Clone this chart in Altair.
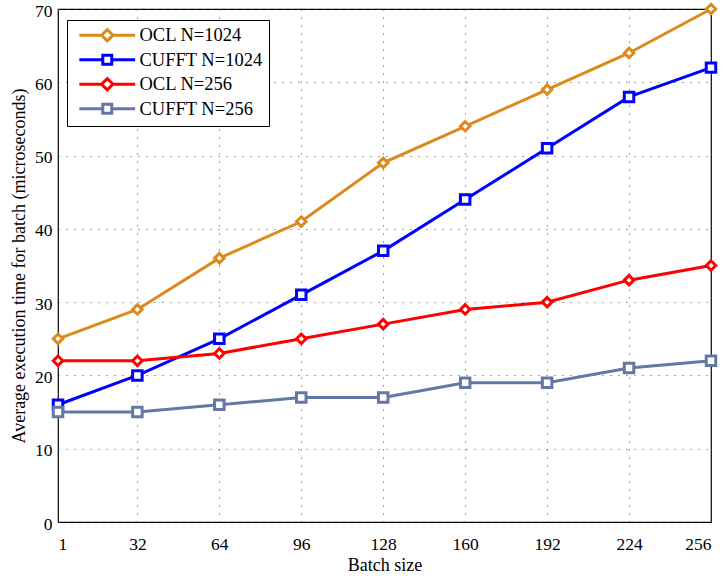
import altair as alt
import pandas as pd

batch = [1, 32, 64, 96, 128, 160, 192, 224, 256]
series_names = ["OCL N=1024", "CUFFT N=1024", "OCL N=256", "CUFFT N=256"]
ocl_1024 = [25, 29, 36, 41, 49, 54, 59, 64, 70]
cufft_1024 = [16, 20, 25, 31, 37, 44, 51, 58, 62]
ocl_256 = [22, 22, 23, 25, 27, 29, 30, 33, 35]
cufft_256 = [15, 15, 16, 17, 17, 19, 19, 21, 22]
colors = ["#DB8A1C", "#0000FF", "#FF0000", "#6478A6"]
y_ticks = [0, 10, 20, 30, 40, 50, 60, 70]

rows = []
for name, vals in zip(series_names, [ocl_1024, cufft_1024, ocl_256, cufft_256]):
    for b, v in zip(batch, vals):
        rows.append({"series": name, "batch": b, "time": v})
df = pd.DataFrame(rows)

FONT = "Liberation Serif"

x = alt.X("batch:Q", scale=alt.Scale(domain=[1, 256], nice=False, zero=False),
          axis=alt.Axis(values=batch, title="Batch size", labelFontSize=17.5,
                        titleFontSize=18, labelPadding=13, titlePadding=4,
                        labelFont=FONT, titleFont=FONT, titleFontWeight="normal",
                        labelColor="black", titleColor="black",
                        grid=True, gridColor="#444", gridDash=[1, 7], gridWidth=1,
                        ticks=False, domain=False))
y = alt.Y("time:Q", scale=alt.Scale(domain=[0, 70], nice=False),
          axis=alt.Axis(values=y_ticks, title="Average execution time for batch (microseconds)",
                        labelFontSize=17.5, titleFontSize=18, labelPadding=6, titlePadding=6,
                        labelOffset=2,
                        labelFont=FONT, titleFont=FONT, titleFontWeight="normal",
                        labelColor="black", titleColor="black",
                        grid=True, gridColor="#444", gridDash=[1, 7], gridWidth=1,
                        ticks=False, domain=False))
color_scale = alt.Scale(domain=series_names, range=colors)

base = alt.Chart(df)

lines = base.mark_line(strokeWidth=3).encode(
    x=x, y=y,
    color=alt.Color("series:N", scale=color_scale, legend=None),
    detail="series:N",
)

points = base.mark_point(filled=False, fill="white", fillOpacity=1, strokeWidth=3, size=90, opacity=1).encode(
    x=x, y=y,
    color=alt.Color("series:N", scale=color_scale, legend=None),
    shape=alt.Shape("series:N", scale=alt.Scale(domain=series_names,
                                                range=["diamond", "square", "diamond", "square"]),
                    legend=None),
)

D = "M-6.2,0H-1.25M1.25,0H6.2M0,-1.25L1.25,0L0,1.25L-1.25,0Z"
S = "M-6.2,0H-1M1,0H6.2M-1,-1H1V1H-1Z"

leg = dict(title=None, orient="none", legendX=9, legendY=11,
           labelFontSize=18.5, labelFont=FONT, labelColor="black",
           symbolOffset=25, labelOffset=23, rowPadding=1.5,
           padding=6, strokeColor="black", fillColor="white",
           symbolStrokeWidth=3, symbolSize=81, symbolOpacity=1)

legend_layer = base.mark_point(filled=False, strokeWidth=3, size=81, opacity=0).encode(
    x=x, y=y,
    color=alt.Color("series:N", scale=color_scale, legend=alt.Legend(**leg)),
    shape=alt.Shape("series:N", scale=alt.Scale(domain=series_names, range=[D, S, D, S]),
                    legend=alt.Legend(**leg)),
)

chart = alt.layer(lines, points, legend_layer).resolve_scale(
    shape="independent"
).resolve_legend(color="independent", shape="independent").properties(
    width=653, height=513,
    background="white",
    autosize=alt.AutoSizeParams(type="none"),
    padding={"left": 58, "top": 9, "right": 15, "bottom": 54},
).configure_view(
    stroke="black", strokeWidth=1.2
)

chart.save("out.html", embed_options={"renderer": "svg", "actions": False})
